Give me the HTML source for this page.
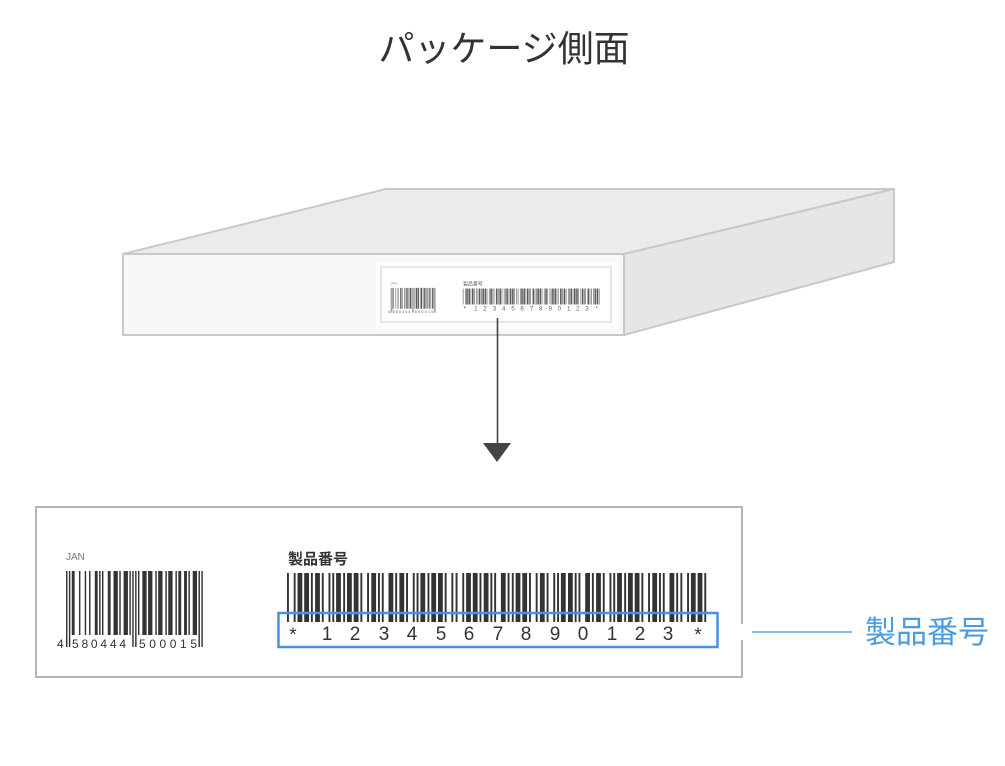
<!DOCTYPE html>
<html><head><meta charset="utf-8"><style>
html,body{margin:0;padding:0;background:#fff;}
svg{display:block;}
text{font-family:"Liberation Sans","Noto Sans CJK JP",sans-serif;}
</style></head><body>
<svg width="1005" height="766" viewBox="0 0 1005 766" xmlns="http://www.w3.org/2000/svg">
<defs>
  <g id="cA" fill="#333"><rect x="0" y="0" width="4.8" height="49"/><rect x="6.7" y="0" width="1.9" height="49"/><rect x="13.4" y="0" width="1.9" height="49"/><rect x="17.2" y="0" width="1.9" height="49"/><rect x="21" y="0" width="4.8" height="49"/></g>
  <g id="cB" fill="#333"><rect x="0" y="0" width="1.9" height="49"/><rect x="6.7" y="0" width="1.9" height="49"/><rect x="10.5" y="0" width="4.8" height="49"/><rect x="17.2" y="0" width="4.8" height="49"/><rect x="23.9" y="0" width="1.9" height="49"/></g>
  <g id="cC" fill="#333"><rect x="0" y="0" width="1.9" height="49"/><rect x="3.8" y="0" width="4.8" height="49"/><rect x="10.5" y="0" width="4.8" height="49"/><rect x="17.2" y="0" width="1.9" height="49"/><rect x="23.9" y="0" width="1.9" height="49"/></g>
  <g id="cD" fill="#333"><rect x="0" y="0" width="4.8" height="49"/><rect x="6.7" y="0" width="1.9" height="49"/><rect x="10.5" y="0" width="1.9" height="49"/><rect x="17.2" y="0" width="4.8" height="49"/><rect x="23.9" y="0" width="1.9" height="49"/></g>
  <g id="mainbars">
    <use href="#cB" transform="translate(287,573)"/>
    <use href="#cA" transform="translate(315.1,573)"/>
    <use href="#cC" transform="translate(343.2,573)"/>
    <use href="#cD" transform="translate(371.3,573)"/>
    <use href="#cA" transform="translate(399.4,573)"/>
    <use href="#cC" transform="translate(427.5,573)"/>
    <use href="#cB" transform="translate(455.6,573)"/>
    <use href="#cD" transform="translate(483.7,573)"/>
    <use href="#cC" transform="translate(511.8,573)"/>
    <use href="#cA" transform="translate(539.9,573)"/>
    <use href="#cD" transform="translate(568,573)"/>
    <use href="#cA" transform="translate(596.1,573)"/>
    <use href="#cC" transform="translate(624.2,573)"/>
    <use href="#cD" transform="translate(652.3,573)"/>
    <use href="#cB" transform="translate(680.4,573)"/>
  </g>
  <g id="janbars" fill="#333">
    <g transform="translate(66,571) scale(1.44,1)">
      <rect x="0" y="0" width="1" height="76"/><rect x="2" y="0" width="1" height="76"/>
      <rect x="46" y="0" width="1" height="76"/><rect x="48" y="0" width="1" height="76"/>
      <rect x="92" y="0" width="1" height="76"/><rect x="94" y="0" width="1" height="76"/>
      <rect x="4" y="0" width="2" height="64"/><rect x="9" y="0" width="1" height="64"/>
      <rect x="13" y="0" width="1" height="64"/><rect x="16" y="0" width="1" height="64"/>
      <rect x="20" y="0" width="2" height="64"/><rect x="23" y="0" width="1" height="64"/>
      <rect x="25" y="0" width="1" height="64"/><rect x="29" y="0" width="2" height="64"/>
      <rect x="33" y="0" width="3" height="64"/><rect x="37" y="0" width="1" height="64"/>
      <rect x="40" y="0" width="3" height="64"/><rect x="44" y="0" width="1" height="64"/>
      <rect x="50" y="0" width="1" height="64"/><rect x="53" y="0" width="3" height="64"/>
      <rect x="57" y="0" width="3" height="64"/><rect x="62" y="0" width="1" height="64"/>
      <rect x="64" y="0" width="3" height="64"/><rect x="69" y="0" width="1" height="64"/>
      <rect x="71" y="0" width="3" height="64"/><rect x="76" y="0" width="1" height="64"/>
      <rect x="78" y="0" width="2" height="64"/><rect x="82" y="0" width="2" height="64"/>
      <rect x="85" y="0" width="1" height="64"/><rect x="88" y="0" width="3" height="64"/>
    </g>
  </g>
</defs>

<rect x="0" y="0" width="1005" height="766" fill="#fff"/>

<!-- Title -->
<text x="504" y="61" text-anchor="middle" font-size="36" fill="#333">パッケージ側面</text>

<!-- Package box -->
<polygon points="123,254 386,189 894,189 624,254" fill="#ebebeb" stroke="#c8c8c8" stroke-width="2" stroke-linejoin="round"/>
<polygon points="624,254 894,189 894,262 624,335" fill="#e6e6e6" stroke="#c8c8c8" stroke-width="2" stroke-linejoin="round"/>
<rect x="123" y="254" width="501" height="81" fill="#f7f7f7" stroke="#c8c8c8" stroke-width="2"/>

<!-- small label on package -->
<rect x="376" y="262" width="242" height="68" fill="#fdfdfd"/>
<rect x="381" y="267" width="230" height="55" fill="#fff" stroke="#cfcfcf" stroke-width="1"/>
<g transform="translate(381,267) scale(0.326) translate(-36,-507)" opacity="0.8">
  <text x="66" y="560" font-size="10" fill="#6b7b8c">JAN</text>
  <use href="#janbars"/>
  <text x="57" y="648" font-size="12" fill="#333">4</text>
  <text x="72" y="648" font-size="12" fill="#333" textLength="54" lengthAdjust="spacing">580444</text>
  <text x="139" y="648" font-size="12" fill="#333" textLength="58" lengthAdjust="spacing">500015</text>
  <text x="288" y="564" font-size="15" fill="#333">製品番号</text>
  <use href="#mainbars"/>
  <g font-size="19" fill="#333" text-anchor="middle">
    <text x="293" y="640">*</text><text x="327" y="640">1</text><text x="355" y="640">2</text><text x="384" y="640">3</text><text x="412" y="640">4</text><text x="441" y="640">5</text><text x="469" y="640">6</text><text x="498" y="640">7</text><text x="526" y="640">8</text><text x="555" y="640">9</text><text x="583" y="640">0</text><text x="612" y="640">1</text><text x="640" y="640">2</text><text x="668" y="640">3</text><text x="698" y="640">*</text>
  </g>
</g>

<!-- connector arrow -->
<line x1="497.5" y1="318" x2="497.5" y2="446" stroke="#444" stroke-width="1.6"/>
<polygon points="483,443 511,443 497,462" fill="#444"/>

<!-- Big label -->
<rect x="36" y="507" width="706" height="170" fill="#fff" stroke="#a3a3a3" stroke-width="1.6"/>
<rect x="738" y="624" width="8" height="16" fill="#fff"/>

<text x="66" y="560" font-size="10" fill="#6b7b8c">JAN</text>
<use href="#janbars"/>
<text x="57" y="648" font-size="12" fill="#333">4</text>
<text x="72" y="648" font-size="12" fill="#333" textLength="54" lengthAdjust="spacing">580444</text>
<text x="139" y="648" font-size="12" fill="#333" textLength="58" lengthAdjust="spacing">500015</text>

<text x="288" y="564" font-size="15" fill="#333" font-weight="bold">製品番号</text>
<use href="#mainbars"/>
<g font-size="19" fill="#333" text-anchor="middle">
  <text x="293" y="641">*</text><text x="327" y="640">1</text><text x="355" y="640">2</text><text x="384" y="640">3</text><text x="412" y="640">4</text><text x="441" y="640">5</text><text x="469" y="640">6</text><text x="498" y="640">7</text><text x="526" y="640">8</text><text x="555" y="640">9</text><text x="583" y="640">0</text><text x="612" y="640">1</text><text x="640" y="640">2</text><text x="668" y="640">3</text><text x="698" y="641">*</text>
</g>

<!-- blue highlight -->
<rect x="278.5" y="613" width="439" height="34" fill="none" stroke="#4a8fe6" stroke-width="2.5"/>

<!-- callout -->
<line x1="752" y1="632" x2="852" y2="632" stroke="#5a9ff0" stroke-width="1.6"/>
<text x="865" y="643" font-size="31" fill="#4a9be0">製品番号</text>
</svg>
</body></html>
